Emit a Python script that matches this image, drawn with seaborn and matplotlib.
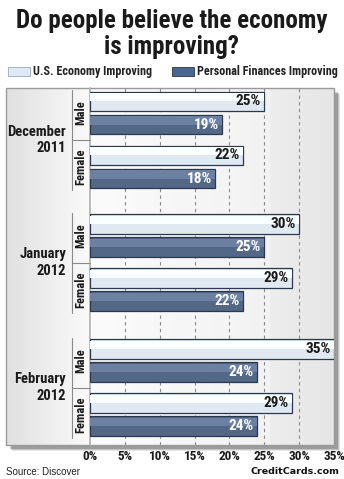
import matplotlib
matplotlib.use("Agg")
import matplotlib.pyplot as plt
import seaborn as sns
import pandas as pd
import numpy as np
from matplotlib.patches import Rectangle

# ---------------- data ----------------
months = ["December\n2011", "January\n2012", "February\n2012"]
genders = ["Male", "Female"]
series = ["U.S. Economy Improving", "Personal Finances Improving"]
economy = [25, 22, 30, 29, 35, 29]      # month x gender order
personal = [19, 18, 25, 22, 24, 24]
xticks = [0, 5, 10, 15, 20, 25, 30, 35]

rows = []
i = 0
for m in months:
    for g in genders:
        rows.append(dict(month=m, gender=g, series=series[0], value=economy[i]))
        rows.append(dict(month=m, gender=g, series=series[1], value=personal[i]))
        i += 1
df = pd.DataFrame(rows)

sns.set_theme(style="white")
NARROW = ["Roboto Condensed", "Barlow Semi Condensed", "DejaVu Sans"]
plt.rcParams["font.family"] = NARROW

W, H = 344, 479
fig = plt.figure(figsize=(W / 100, H / 100), dpi=100)
fig.patch.set_facecolor("white")


def rect(x0, y0, x1, y1):
    """pixel box (top-left origin) -> figure fraction rect"""
    return [x0 / W, 1 - y1 / H, (x1 - x0) / W, (y1 - y0) / H]


LIGHT = "#dde9f5"
DARK = "#4a6590"
EDGE = "#2a374d"

# ---------------- background / frame ----------------
bg = fig.add_axes([0, 0, 1, 1], zorder=0)
bg.set_xlim(0, W)
bg.set_ylim(H, 0)
bg.axis("off")
FX0, FY0, FX1, FY1 = 6, 88, 334, 445
PX0 = 90
# shadow
for k, a in enumerate([0.10, 0.14, 0.2]):
    off = 4 - k
    bg.add_patch(Rectangle((FX0 + off + 2, FY0 + off + 2), FX1 - FX0, FY1 - FY0,
                           facecolor="black", alpha=a, lw=0))
# left panel gradient
grad = np.linspace(0.88, 0.98, 64).reshape(1, -1)
bg.imshow(np.dstack([grad, grad, grad]), extent=(FX0, PX0, FY1, FY0),
          aspect="auto", zorder=1)
# plot area gradient
grad2 = np.concatenate([np.linspace(0.985, 0.95, 180), np.linspace(0.93, 0.90, 64)]).reshape(1, -1)
bg.imshow(np.dstack([grad2, grad2, grad2]), extent=(PX0, FX1, FY1, FY0),
          aspect="auto", zorder=1)
bg.add_patch(Rectangle((FX0, FY0), FX1 - FX0, FY1 - FY0, facecolor="none",
                       edgecolor="#9a9a9a", lw=1.0, zorder=3))
bg.plot([PX0, PX0], [FY0, FY1], color="#b0b0b0", lw=1.2, zorder=3)

# grid axes (data scale)
gax = fig.add_axes(rect(PX0, FY0, FX1, FY1), zorder=1)
gax.set_facecolor("none")
gax.set_xlim(0, 35)
gax.set_ylim(0, 1)
for t in xticks[1:-1]:
    gax.axvline(t, color="#8a8a8a", lw=0.8, ls=(0, (3, 3)))
gax.set_yticks([])
gax.set_xticks(xticks)
gax.set_xticklabels([f"{t}%" for t in xticks], fontsize=9.5, fontweight="bold",
                    color="#1a1a1a")
gax.tick_params(axis="x", length=0, pad=3.5)
for s in gax.spines.values():
    s.set_visible(False)

# ---------------- bars ----------------
month_boxes = [(86, 194), (208.5, 316.5), (333.5, 441.5)]
for m, (y0, y1) in zip(months, month_boxes):
    ax = fig.add_axes(rect(PX0, y0, FX1, y1), zorder=2)
    ax.set_facecolor("none")
    sub = df[df.month == m]
    sns.barplot(data=sub, y="gender", x="value", hue="series", order=genders,
                hue_order=series, palette=[LIGHT, DARK], orient="h",
                width=0.852, gap=0.17, edgecolor=EDGE, linewidth=0.9,
                legend=False, ax=ax)
    # lighter top band on each bar
    for p in ax.patches:
        x, y = p.get_x(), p.get_y()
        w, h = p.get_width(), p.get_height()
        fc = p.get_facecolor()
        hi = tuple(min(1, c + 0.10) for c in fc[:3])
        ax.add_patch(Rectangle((x, y + h * 0.08), w, h * 0.42, facecolor=hi,
                               lw=0, zorder=p.get_zorder() + 0.1))
    for cont, col in zip(ax.containers, ["#1a1a1a", "white"]):
        labs = ax.bar_label(cont, labels=[f"{v:.0f}%" for v in cont.datavalues],
                            padding=-2.5, fontsize=11, fontweight="bold",
                            color=col, zorder=5)
        for t in labs:
            t.set_ha("right")
    ax.set_xlim(0, 35)
    ax.set_ylim(1.5, -0.5)
    ax.set_xlabel("")
    ax.set_ylabel("")
    ax.set_xticks([])
    ax.set_yticks([])
    for s in ax.spines.values():
        s.set_visible(False)
    # gender labels
    for gi, g in enumerate(genders):
        ax.text(-(PX0 - 81) / 244 * 35, gi, g, rotation=90, ha="center",
                va="center", fontsize=9, fontweight="bold", color="#1a1a1a",
                clip_on=False)
    # month label
    ax.text(-(PX0 - 66) / 244 * 35, 0.5, m, ha="right", va="center",
            fontsize=10.5, fontweight="bold", color="#1a1a1a",
            linespacing=1.2, multialignment="right", clip_on=False)
    # separators in left panel
    bg.plot([72, 72], [y0 + 4, y1 - 4], color="#8a8a8a", lw=0.8, zorder=4)
    bg.plot([72, PX0], [(y0 + y1) / 2, (y0 + y1) / 2], color="#8a8a8a",
            lw=0.8, zorder=4)

# ---------------- title / legend / notes ----------------
fig.text(0.5, 1 - 9 / H, "Do people believe the economy\nis improving?",
         ha="center", va="top", fontsize=18, fontweight="bold",
         color="#1a1a1a", linespacing=1.12)

bg.add_patch(Rectangle((8, 67), 22, 9, facecolor=LIGHT, edgecolor="#9aaabb",
                       lw=0.6, zorder=3))
bg.text(33, 71.5, series[0], ha="left", va="center", fontsize=8.7,
        fontweight="bold", color="#222222")
bg.add_patch(Rectangle((172, 67), 22, 9, facecolor=DARK, edgecolor=EDGE,
                       lw=0.6, zorder=3))
bg.text(197, 71.5, series[1], ha="left", va="center", fontsize=8.7,
        fontweight="bold", color="#222222")

bg.text(6, 472, "Source: Discover", ha="left", va="center", fontsize=7,
        family=["Liberation Sans", "DejaVu Sans"], color="#222222")
bg.text(339, 471.5, "CreditCards.com", ha="right", va="center", fontsize=6.8,
        fontweight="bold", family=["DejaVu Sans"], color="#111111")

fig.savefig("out.png", dpi=100)
